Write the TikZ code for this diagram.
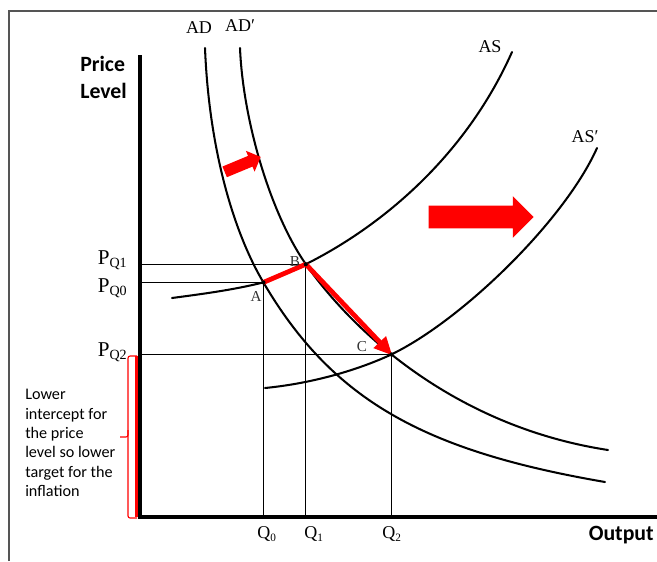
\documentclass[tikz,border=0pt]{standalone}
\usepackage{fontspec}
\setmainfont{Liberation Serif}
\setsansfont{Carlito}
\usepackage{tikz}
\usetikzlibrary{arrows.meta,shapes.arrows,intersections}
\definecolor{shiftred}{RGB}{255,0,0}
\definecolor{framegray}{RGB}{85,85,85}
\tikzset{
  curve/.style={line width=1.45pt, line cap=round},
  guide/.style={line width=0.75pt},
  axis/.style={line width=2.8pt},
  movearrow/.style={draw=shiftred, line width=3.4pt},
  blockarrow/.style={single arrow, fill=shiftred, inner xsep=0pt,
    single arrow tip angle=90},
  curvelabel/.style={font=\fontsize{12.8}{14}\selectfont, inner sep=0pt},
  pricelabel/.style={font=\fontsize{15}{16}\selectfont, anchor=base east, inner sep=0pt},
  qlabel/.style={font=\fontsize{12.8}{14}\selectfont, anchor=base west, inner sep=0pt},
  pointlabel/.style={font=\fontsize{10.8}{12}\selectfont, text=black!80, inner sep=0pt},
  axislabel/.style={font=\sffamily\bfseries\fontsize{15.5}{19.2}\selectfont,
    align=left, inner sep=0pt},
  note/.style={font=\sffamily\fontsize{11.5}{13.8}\selectfont, align=left, inner sep=0pt},
}
\newcommand{\psub}[1]{\raisebox{-0.35ex}{\fontsize{10}{10}\selectfont #1}}
\newcommand{\qsub}[1]{\raisebox{-0.4ex}{\fontsize{8}{8}\selectfont #1}}

\begin{document}
\begin{tikzpicture}[x=0.025cm, y=-0.025cm]
  \useasboundingbox (0,0) rectangle (657,561);

  % frame
  \draw[framegray, line width=0.9pt] (9,561) -- (9,11) -- (657,11);

  \coordinate (O) at (140,517);
  \coordinate (ytop) at (140,55);
  \coordinate (xend) at (657,517);
  \coordinate (A) at (263.4,282.4);

  % demand and supply
  \draw[curve] (205,48) .. controls (209,148) and (233,231) .. (A)
    .. controls (333,401) and (425,451) .. (605,482);
  \draw[curve, name path=adp] (240,48) .. controls (243,120) and (270,212) .. (305,263)
    .. controls (355,335) and (458,427) .. (608,450);
  \draw[curve, name path=as] (172,298) .. controls (202,294) and (233,290) .. (A)
    .. controls (343,254) and (455,180) .. (512,52);
  \draw[curve, name path=asp] (265,388) .. controls (306,384) and (350,373) .. (388,356)
    .. controls (458,324) and (564,222) .. (597,148);

  \path[name intersections={of=adp and as, by=B}];
  \path[name intersections={of=adp and asp, by=C}];

  \node[curvelabel] (adlab) at (199,28) {AD};
  \node[curvelabel] (adplab) at (240,26) {AD′};
  \node[curvelabel] (aslab) at (490,47) {AS};
  \node[curvelabel] (asplab) at (585,137) {AS′};

  % price level guides
  \foreach \pt in {A,B,C} {
    \draw[guide] (\pt -| O) -- (\pt);
    \draw[guide] (\pt) -- (\pt |- O);
  }

  % red bracket on the axis
  \draw[shiftred, line width=2.6pt] (137,356) -- (137,517);
  \draw[shiftred, line width=0.8pt, rounded corners=1.5pt]
    (137,356) -- (128,356) -- (128,437) -- (120,437);
  \draw[shiftred, line width=0.8pt, rounded corners=1.5pt]
    (128,430) -- (128,518) -- (137,518);

  % axes
  \draw[axis] (ytop) -- (O) -- (xend);

  % path of the equilibrium
  \draw[movearrow] (A) -- (B);
  \draw[movearrow, -{Triangle[length=4.6mm, width=4mm]}, shorten >=-1pt] (B) -- (C);
  \foreach \pt in {A,B,C} {
    \fill (\pt) circle (1.5pt);
  }
  \node[pointlabel] (alab) at (256,296) {A};
  \node[pointlabel] (blab) at (295,262) {B};
  \node[pointlabel] (clab) at (362,347) {C};

  % shifts
  \node[blockarrow, rotate=22.6, minimum height=0.975cm, inner ysep=0.1375cm,
    single arrow head extend=0.1375cm] (shiftad) at (240,165.5) {};
  \node[blockarrow, minimum height=2.625cm, inner ysep=0.275cm,
    single arrow head extend=0.2375cm] (shiftas) at (475.5,217) {};

  \node[pricelabel] (pq1) at (127,264) {P\psub{Q1}};
  \node[pricelabel] (pq0) at (127,292) {P\psub{Q0}};
  \node[pricelabel] (pq2) at (127,356) {P\psub{Q2}};

  \node[qlabel] (q0) at (257,538) {Q\qsub{0}};
  \node[qlabel] (q1) at (304,538) {Q\qsub{1}};
  \node[qlabel] (q2) at (382,538) {Q\qsub{2}};

  \node[axislabel, anchor=north west] (ylab) at (80,56) {Price\\Level};
  \node[axislabel, anchor=base east] (xlab) at (654,540) {Output};

  \node[note, anchor=north west] (lowernote) at (25,389)
    {Lower\\intercept for\\the price\\level so lower\\target for the\\inflation};
\end{tikzpicture}
\end{document}
